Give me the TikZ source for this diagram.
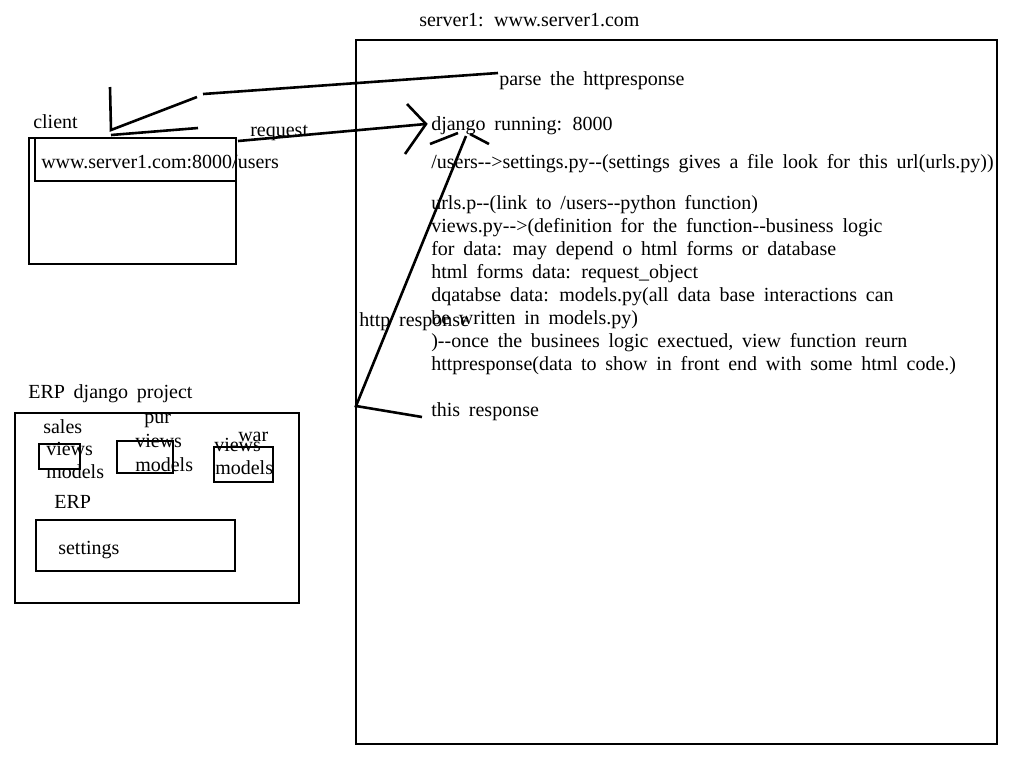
\documentclass[tikz,border=0pt]{standalone}
\usepackage{fontspec}
\setmainfont{Liberation Serif}[Ligatures=TeXOff,WordSpace=1.75]
\begin{document}
\begin{tikzpicture}[x=.5pt,y=-.5pt,line width=1.3pt,
  txt/.style={anchor=base west,inner sep=0pt,font=\fontsize{10}{12}\selectfont}]
\useasboundingbox (0,0) rectangle (1024,768);
% server
\draw(356,40)rectangle(997,744);
\node[txt](title) at (418,26){server1: www.server1.com};
\node[txt](parse) at (498,85){parse the httpresponse};
\node[txt](django) at (430,130){django running: 8000};
\node[txt](users) at (430,168){/users-->settings.py--(settings gives a file look for this url(urls.py))};
\node[txt](urls) at (430,209){urls.p--(link to /users--python function)};
\node[txt](views) at (430,232){views.py-->(definition for the function--business logic};
\node[txt](fordata) at (430,255){for data: may depend o html forms or database};
\node[txt](forms) at (430,278){html forms data: request\_object};
\node[txt](dbase) at (430,301){dqatabse data: models.py(all data base interactions can};
\node[txt](written) at (430,324){be written in models.py)};
\node[txt](once) at (430,347){)--once the businees logic exectued, view function reurn};
\node[txt](httpres) at (430,370){httpresponse(data to show in front end with some html code.)};
\node[txt](this) at (430,416){this response};
\node[txt](httpresp) at (358,326){http response};
% client
\node[txt](client) at (32,128){client};
\draw(29,138)rectangle(236,264);
\draw(35,138)rectangle(236,181);
\node[txt](url) at (40,168){www.server1.com:8000/users};
\node[txt](request) at (249,136){request};
% strokes
\draw(110,87)--(111,130)--(197,97);
\draw(111,135)--(198,128);
\draw(203,94)--(498,73);
\draw(238,141)--(426,124);
\draw(407,104)--(426,124)--(405,154);
\draw(430,144)--(458,133);
\draw(470,134)--(489,144);
\draw(466,136)--(356,406)--(422,417);
% ERP project
\node[txt](erpproj) at (27,398){ERP django project};
\draw(15,413)rectangle(299,603);
\draw(39,444)rectangle(80,469);
\node[txt](sales) at (42,433){sales};
\node[txt](salesv) at (45,455){views};
\node[txt](salesm) at (45,478){models};
\draw(117,441)rectangle(173,473);
\node[txt](pur) at (143,423){pur};
\node[txt](purv) at (134,447){views};
\node[txt](purm) at (134,471){models};
\draw(214,447)rectangle(273,482);
\node[txt](war) at (237,441){war};
\node[txt](warv) at (213,451){views};
\node[txt](warm) at (214,474){models};
\node[txt](erp) at (53,508){ERP};
\draw(36,520)rectangle(235,571);
\node[txt](settings) at (57,554){settings};
\end{tikzpicture}
\end{document}
